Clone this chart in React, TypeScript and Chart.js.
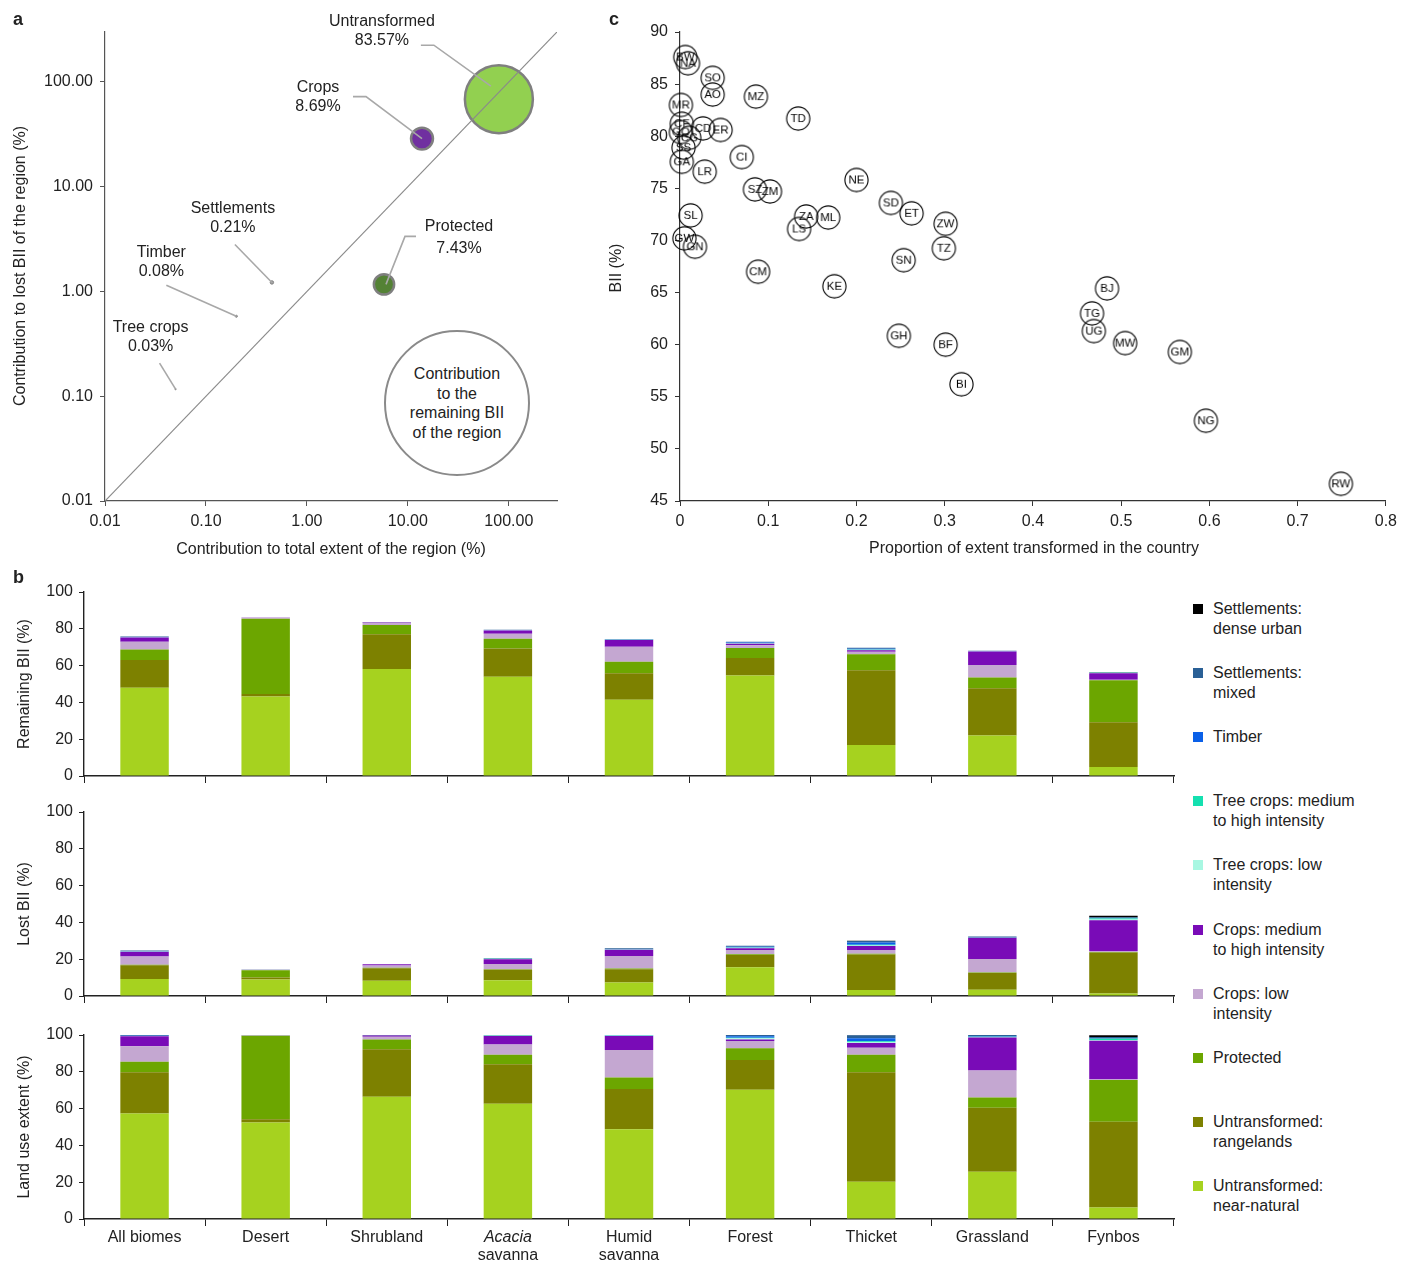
import React, { useEffect, useRef } from "react";
import { Chart, registerables } from "chart.js";

Chart.register(...registerables);

const FONT = "'Liberation Sans', Arial, Helvetica, sans-serif";
const INK = "#222222";

// ---------------- Panel a ----------------
const aCategories = ["Untransformed", "Crops", "Protected", "Settlements", "Timber", "Tree crops"];
const aExtent = [79.7, 13.8, 5.8, 0.45, 0.2, 0.05];
const aLost = [68.5, 28.8, 1.17, 1.22, 0.58, 0.117];
const aRemaining = [83.57, 8.69, 7.43, 0.21, 0.08, 0.03];
const aColors = ["#92d050", "#7030a0", "#548235", "#a6a6a6", "#a6a6a6", "#a6a6a6"];
const aTicks = [0.01, 0.1, 1, 10, 100];
const aMin = 0.01;
const aMax = 300;

// annotation layout: pixel offsets from each bubble centre
const aAnnotLayout = [
  { text: [-117, -78], gap: 19, path: [[-78, -54], [-65, -54], [-8, -13]] },
  { text: [-104, -51], gap: 19, path: [[-69, -42], [-56, -42], [0, 0]] },
  { text: [75, -58], gap: 22, path: [[32, -48], [21, -48], [2, 0]] },
  { text: [-39, -74], gap: 19.5, path: [[-37, -38], [0, 0]] },
  { text: [-75, -64], gap: 19, path: [[-70, -31], [0, 0]] },
  { text: [-25, -62], gap: 19, path: [[-16, -26], [0, 0]] },
];

// ---------------- Panel c ----------------
const cCodes = ["BW", "NA", "SO", "AO", "MZ", "MR", "TD", "CF", "GQ", "CD", "ER", "CG", "SS", "GA", "LR", "CI", "NE", "SZ", "ZM", "SL", "ZA", "ML", "LS", "SD", "ET", "ZW", "TZ", "GW", "GN", "SN", "CM", "KE", "GH", "BF", "BI", "BJ", "TG", "UG", "MW", "GM", "NG", "RW"];
const cTransformed = [0.006, 0.009, 0.037, 0.037, 0.086, 0.001, 0.134, 0.002, 0.001, 0.026, 0.046, 0.0105, 0.004, 0.002, 0.028, 0.07, 0.2, 0.085, 0.102, 0.012, 0.143, 0.168, 0.135, 0.239, 0.2625, 0.301, 0.299, 0.005, 0.017, 0.2535, 0.0885, 0.175, 0.248, 0.301, 0.319, 0.484, 0.467, 0.469, 0.5045, 0.5665, 0.596, 0.749];
const cBII = [87.6, 87.0, 85.6, 84.0, 83.8, 83.0, 81.7, 81.2, 80.4, 80.75, 80.6, 79.85, 78.9, 77.55, 76.6, 78.0, 75.8, 74.9, 74.7, 72.4, 72.3, 72.2, 71.1, 73.6, 72.6, 71.6, 69.25, 70.2, 69.4, 68.1, 67.0, 65.6, 60.85, 60.0, 56.2, 65.4, 63.0, 61.3, 60.15, 59.3, 52.7, 46.65];

// ---------------- Panel b ----------------
const biomeLines = [["All biomes"], ["Desert"], ["Shrubland"], ["Acacia", "savanna"], ["Humid", "savanna"], ["Forest"], ["Thicket"], ["Grassland"], ["Fynbos"]];
const italicWords = ["Acacia"];

// series, bottom of stack first
const legendLines = [
  ["Untransformed:", "near-natural"],
  ["Untransformed:", "rangelands"],
  ["Protected"],
  ["Crops: low", "intensity"],
  ["Crops: medium", "to high intensity"],
  ["Tree crops: low", "intensity"],
  ["Tree crops: medium", "to high intensity"],
  ["Timber"],
  ["Settlements:", "mixed"],
  ["Settlements:", "dense urban"],
];
const seriesColors = ["#a6d21f", "#7d8100", "#6ca600", "#c4a7d1", "#790bb7", "#a8f7e2", "#14e0b0", "#0a60e8", "#2a6096", "#000000"];

// Remaining BII (%)
const remNearNatural = [48, 43.2, 58.1, 53.9, 41.4, 54.6, 16.9, 22.0, 4.9];
const remRangelands = [15, 1.3, 19, 15.4, 14.5, 9.5, 40.6, 25.7, 24.3];
const remProtected = [5.8, 41, 4.9, 5.3, 6.2, 5.4, 8.7, 5.8, 22.9];
const remCropsLow = [4.2, 0.5, 1.3, 2.7, 8.1, 1.6, 1.3, 6.8, 0.2];
const remCropsHigh = [2.3, 0.1, 0.3, 1.8, 3.7, 0.8, 0.9, 7.4, 3.6];
const remTreeLow = [0.1, 0, 0, 0.1, 0.1, 0.2, 0.2, 0.1, 0.1];
const remTreeHigh = [0.05, 0, 0, 0.05, 0.1, 0.1, 0.1, 0, 0.1];
const remTimber = [0.1, 0, 0, 0.1, 0.1, 0.3, 0.5, 0.1, 0];
const remSetMixed = [0.2, 0.1, 0.1, 0.2, 0.2, 0.5, 0.5, 0.2, 0.2];
const remSetDense = [0, 0, 0, 0, 0, 0, 0, 0, 0.1];

// Lost BII (%)
const lostNearNatural = [9.3, 8.9, 8.3, 8.5, 7.3, 15.6, 3.3, 3.4, 1.3];
const lostRangelands = [7.4, 1.1, 6.8, 5.7, 7.2, 6.7, 19.2, 9.1, 22.3];
const lostProtected = [0.3, 4.0, 0.3, 0.4, 0.5, 0.4, 0.4, 0.3, 0.3];
const lostCropsLow = [4.4, 0.2, 1.2, 2.8, 6.8, 2.3, 2.1, 7.3, 0.6];
const lostCropsHigh = [2.7, 0.05, 0.6, 2.6, 3.4, 0.9, 2.2, 11.5, 16.7];
const lostTreeLow = [0.1, 0, 0, 0.1, 0.1, 0.3, 0.3, 0.1, 0.4];
const lostTreeHigh = [0.1, 0, 0, 0.1, 0.1, 0.2, 0.4, 0.1, 0.5];
const lostTimber = [0.1, 0, 0, 0, 0.1, 0.4, 1.2, 0.1, 0.1];
const lostSetMixed = [0.3, 0.1, 0.1, 0.3, 0.4, 0.5, 0.8, 0.4, 0.6];
const lostSetDense = [0, 0, 0, 0, 0, 0, 0.1, 0, 0.8];

// Land use extent (%)
const extNearNatural = [57.3, 52.4, 66.5, 62.7, 48.8, 70.3, 20.3, 25.7, 6.3];
const extRangelands = [22.4, 1.8, 25.7, 21.4, 21.9, 16.1, 59.4, 34.7, 46.5];
const extProtected = [5.8, 45.4, 5.4, 5.1, 6.2, 6.4, 9.5, 5.6, 22.8];
const extCropsLow = [8.4, 0.2, 1.5, 5.7, 15.0, 3.9, 3.9, 14.7, 0.5];
const extCropsHigh = [5.4, 0.05, 0.6, 4.6, 7.6, 0.9, 2.6, 18.0, 20.8];
const extTreeLow = [0.1, 0, 0, 0.1, 0.1, 0.6, 0.3, 0.1, 0.4];
const extTreeHigh = [0.1, 0, 0, 0.1, 0.1, 0.3, 0.6, 0.2, 0.6];
const extTimber = [0.1, 0, 0, 0.05, 0.1, 0.8, 1.6, 0.3, 0.2];
const extSetMixed = [0.4, 0.15, 0.3, 0.25, 0.2, 0.7, 1.6, 0.7, 0.8];
const extSetDense = [0, 0, 0, 0, 0, 0, 0.2, 0, 1.0];

const remSeries = [remNearNatural, remRangelands, remProtected, remCropsLow, remCropsHigh, remTreeLow, remTreeHigh, remTimber, remSetMixed, remSetDense];
const lostSeries = [lostNearNatural, lostRangelands, lostProtected, lostCropsLow, lostCropsHigh, lostTreeLow, lostTreeHigh, lostTimber, lostSetMixed, lostSetDense];
const extSeries = [extNearNatural, extRangelands, extProtected, extCropsLow, extCropsHigh, extTreeLow, extTreeHigh, extTimber, extSetMixed, extSetDense];

const font16 = { size: 16, family: FONT };

// ---------------- configs ----------------
const bubbleRadius = (v: number) => 34 * Math.sqrt(v / aRemaining[0]);

const annotPlugin = {
  id: "annot",
  afterDatasetsDraw(chart: any) {
    const { ctx, scales } = chart;
    ctx.save();
    aCategories.forEach((name, i) => {
      const px = scales.x.getPixelForValue(aExtent[i]);
      const py = scales.y.getPixelForValue(aLost[i]);
      const lay = aAnnotLayout[i];
      ctx.strokeStyle = "#a8a8a8";
      ctx.lineWidth = 1.6;
      ctx.beginPath();
      lay.path.forEach(([dx, dy], k) => {
        if (k === 0) ctx.moveTo(px + dx, py + dy);
        else ctx.lineTo(px + dx, py + dy);
      });
      ctx.stroke();
      ctx.fillStyle = INK;
      ctx.font = `16px ${FONT}`;
      ctx.textAlign = "center";
      ctx.textBaseline = "middle";
      ctx.fillText(name, px + lay.text[0], py + lay.text[1]);
      ctx.fillText(`${aRemaining[i].toFixed(2)}%`, px + lay.text[0], py + lay.text[1] + lay.gap);
    });
    ctx.restore();
  },
};

function configA(): any {
  return {
    type: "bubble",
    data: {
      datasets: [
        {
          type: "scatter",
          data: [{ x: aMin, y: aMin }, { x: aMax, y: aMax }],
          showLine: true,
          borderColor: "#8a8a8a",
          borderWidth: 1.2,
          pointRadius: 0,
          order: 0,
        },
        {
          type: "bubble",
          data: aCategories.map((_, i) => ({ x: aExtent[i], y: aLost[i], r: bubbleRadius(aRemaining[i]) })),
          backgroundColor: aColors,
          borderColor: "#7f7f7f",
          borderWidth: (c: any) => (c.dataIndex < 3 ? 2.5 : 1),
          order: 1,
          clip: false,
        },
      ],
    },
    options: {
      animation: false,
      responsive: false,
      layout: { autoPadding: false, padding: { top: 32, right: 23, left: 0, bottom: 0 } },
      plugins: { legend: { display: false }, tooltip: { enabled: false } },
      scales: {
        x: {
          type: "logarithmic",
          min: aMin,
          max: aMax,
          afterBuildTicks: (s: any) => { s.ticks = aTicks.map((v) => ({ value: v })); },
          afterFit: (s: any) => { s.height = 69; },
          ticks: { callback: (v: any) => Number(v).toFixed(2), font: font16, color: INK, padding: 6, autoSkip: false, maxRotation: 0 },
          grid: { drawOnChartArea: false, tickLength: 5, color: "#555" },
          border: { color: "#555", width: 1.2 },
        },
        y: {
          type: "logarithmic",
          min: aMin,
          max: aMax,
          afterBuildTicks: (s: any) => { s.ticks = aTicks.map((v) => ({ value: v })); },
          afterFit: (s: any) => { s.width = 105; },
          ticks: { callback: (v: any) => Number(v).toFixed(2), font: font16, color: INK, padding: 7, autoSkip: false },
          grid: { drawOnChartArea: false, tickLength: 5, color: "#555" },
          border: { color: "#555", width: 1.2 },
        },
      },
    },
    plugins: [annotPlugin],
  };
}

function makeBadge(code: string) {
  const c = document.createElement("canvas");
  c.width = 27;
  c.height = 27;
  const g = c.getContext("2d")!;
  g.beginPath();
  g.arc(13.5, 13.5, 11.6, 0, Math.PI * 2);
  g.strokeStyle = "#000";
  g.lineWidth = 1.1;
  g.stroke();
  g.fillStyle = "#000";
  g.font = `11.5px ${FONT}`;
  g.textAlign = "center";
  g.textBaseline = "middle";
  g.fillText(code, 13.5, 14);
  return c;
}

function configC(): any {
  const badges = cCodes.map(makeBadge);
  return {
    type: "scatter",
    data: {
      datasets: [
        {
          data: cCodes.map((_, i) => ({ x: cTransformed[i], y: cBII[i] })),
          pointStyle: (c: any) => badges[c.dataIndex],
          pointRadius: 12,
          clip: false,
        },
      ],
    },
    options: {
      animation: false,
      responsive: false,
      layout: { autoPadding: false, padding: { top: 32, right: 15, left: 0, bottom: 0 } },
      plugins: { legend: { display: false }, tooltip: { enabled: false } },
      scales: {
        x: {
          type: "linear",
          min: 0,
          max: 0.8,
          afterFit: (s: any) => { s.height = 69; },
          ticks: { stepSize: 0.1, font: font16, color: INK, padding: 6, maxRotation: 0 },
          grid: { drawOnChartArea: false, tickLength: 5, color: "#333" },
          border: { color: "#333", width: 1.2 },
        },
        y: {
          type: "linear",
          min: 45,
          max: 90,
          afterFit: (s: any) => { s.width = 80; },
          ticks: { stepSize: 5, font: font16, color: INK, padding: 7 },
          grid: { drawOnChartArea: false, tickLength: 5, color: "#333" },
          border: { color: "#333", width: 1.2 },
        },
      },
    },
  };
}

const biomeLabelPlugin = {
  id: "biomeLabels",
  afterDraw(chart: any) {
    const { ctx, chartArea, scales } = chart;
    ctx.save();
    ctx.fillStyle = INK;
    ctx.textAlign = "center";
    ctx.textBaseline = "middle";
    biomeLines.forEach((lines, i) => {
      const px = scales.x.getPixelForValue(i);
      lines.forEach((t, k) => {
        ctx.font = `${italicWords.includes(t) ? "italic " : ""}16px ${FONT}`;
        ctx.fillText(t, px, chartArea.bottom + 19 + k * 18);
      });
    });
    ctx.restore();
  },
};

// chart area: 16px above, xHeight below (both exceed the y-axis label half-height padding)
function configBar(series: number[][], xHeight: number, withLabels: boolean): any {
  return {
    type: "bar",
    data: {
      labels: biomeLines.map((l) => l.join(" ")),
      datasets: series.map((d, i) => ({
        label: legendLines[i].join(" "),
        data: d,
        backgroundColor: seriesColors[i],
        borderWidth: 0,
        barPercentage: 0.4,
        categoryPercentage: 1,
        stack: "s",
      })),
    },
    options: {
      animation: false,
      responsive: false,
      layout: { autoPadding: false, padding: { top: 16, right: 6, left: 0, bottom: 0 } },
      plugins: { legend: { display: false }, tooltip: { enabled: false } },
      scales: {
        x: {
          stacked: true,
          afterFit: (s: any) => { s.height = xHeight; },
          ticks: { display: false },
          grid: { offset: true, drawOnChartArea: false, tickLength: 7, color: "#222" },
          border: { color: "#222", width: 1.4 },
        },
        y: {
          stacked: true,
          min: 0,
          max: 100,
          afterFit: (s: any) => { s.width = 84; },
          ticks: { stepSize: 20, font: font16, color: INK, padding: 6 },
          grid: { drawOnChartArea: false, tickLength: 5, color: "#222" },
          border: { color: "#222", width: 1.4 },
        },
      },
    },
    plugins: withLabels ? [biomeLabelPlugin] : [],
  };
}

// ---------------- component ----------------
const abs = (l: number, t: number, extra: any = {}) => ({ position: "absolute" as const, left: l, top: t, ...extra });

function VTitle({ x, y, text }: { x: number; y: number; text: string }) {
  return (
    <div style={abs(x, y, { transform: "translate(-50%, -50%) rotate(-90deg)", whiteSpace: "nowrap", fontSize: 16 })}>{text}</div>
  );
}
function HTitle({ x, y, text }: { x: number; y: number; text: string }) {
  return <div style={abs(x, y, { transform: "translate(-50%, -50%)", whiteSpace: "nowrap", fontSize: 16 })}>{text}</div>;
}

export default function App() {
  const aRef = useRef<HTMLCanvasElement>(null);
  const cRef = useRef<HTMLCanvasElement>(null);
  const b1Ref = useRef<HTMLCanvasElement>(null);
  const b2Ref = useRef<HTMLCanvasElement>(null);
  const b3Ref = useRef<HTMLCanvasElement>(null);

  useEffect(() => {
    const charts: Chart[] = [];
    charts.push(new Chart(aRef.current!, configA()));
    charts.push(new Chart(cRef.current!, configC()));
    charts.push(new Chart(b1Ref.current!, configBar(remSeries, 16, false)));
    charts.push(new Chart(b2Ref.current!, configBar(lostSeries, 16, false)));
    charts.push(new Chart(b3Ref.current!, configBar(extSeries, 45, true)));
    return () => charts.forEach((c) => c.destroy());
  }, []);

  const legendTop = 609;
  const legendStep = 64.1;
  const legendItems = legendLines.map((lines, i) => ({ lines, color: seriesColors[i] })).reverse();

  return (
    <div style={{ position: "absolute", left: 0, top: 0, width: 1403, height: 1264, background: "#fff", fontFamily: FONT, color: INK, overflow: "hidden" }}>
      <canvas ref={aRef} width={580} height={570} style={abs(0, 0, { width: 580, height: 570 })} />
      <canvas ref={cRef} width={803} height={570} style={abs(600, 0, { width: 803, height: 570 })} />
      <canvas ref={b1Ref} width={1180} height={216} style={abs(0, 576, { width: 1180, height: 216 })} />
      <canvas ref={b2Ref} width={1180} height={216} style={abs(0, 796, { width: 1180, height: 216 })} />
      <canvas ref={b3Ref} width={1180} height={245} style={abs(0, 1019, { width: 1180, height: 245 })} />

      {/* panel letters */}
      <div style={abs(13, 9, { fontWeight: "bold", fontSize: 18 })}>a</div>
      <div style={abs(13, 567, { fontWeight: "bold", fontSize: 18 })}>b</div>
      <div style={abs(609, 9, { fontWeight: "bold", fontSize: 18 })}>c</div>

      {/* panel a titles and size key */}
      <VTitle x={20} y={266} text="Contribution to lost BII of the region (%)" />
      <HTitle x={331} y={549} text="Contribution to total extent of the region (%)" />
      <div
        style={abs(384, 330, {
          width: 146,
          height: 146,
          boxSizing: "border-box",
          border: "2.5px solid #8a8a8a",
          borderRadius: "50%",
          background: "#fff",
          display: "flex",
          alignItems: "center",
          justifyContent: "center",
          textAlign: "center",
          fontSize: 16,
          lineHeight: "19.5px",
        })}
      >
        <div>
          Contribution
          <br />
          to the
          <br />
          remaining BII
          <br />
          of the region
        </div>
      </div>

      {/* panel c titles */}
      <VTitle x={616} y={268} text="BII (%)" />
      <HTitle x={1034} y={548} text="Proportion of extent transformed in the country" />

      {/* panel b titles */}
      <VTitle x={24} y={684} text="Remaining BII (%)" />
      <VTitle x={24} y={904} text="Lost BII (%)" />
      <VTitle x={24} y={1127} text="Land use extent (%)" />

      {/* legend */}
      {legendItems.map((it, i) => {
        const cy = legendTop + i * legendStep;
        return (
          <React.Fragment key={i}>
            <div style={abs(1193, cy - 5, { width: 10, height: 10, background: it.color })} />
            <div style={abs(1213, cy - 10, { fontSize: 16, lineHeight: "20px", whiteSpace: "nowrap" })}>
              {it.lines.map((l, k) => (
                <div key={k}>{l}</div>
              ))}
            </div>
          </React.Fragment>
        );
      })}
    </div>
  );
}
